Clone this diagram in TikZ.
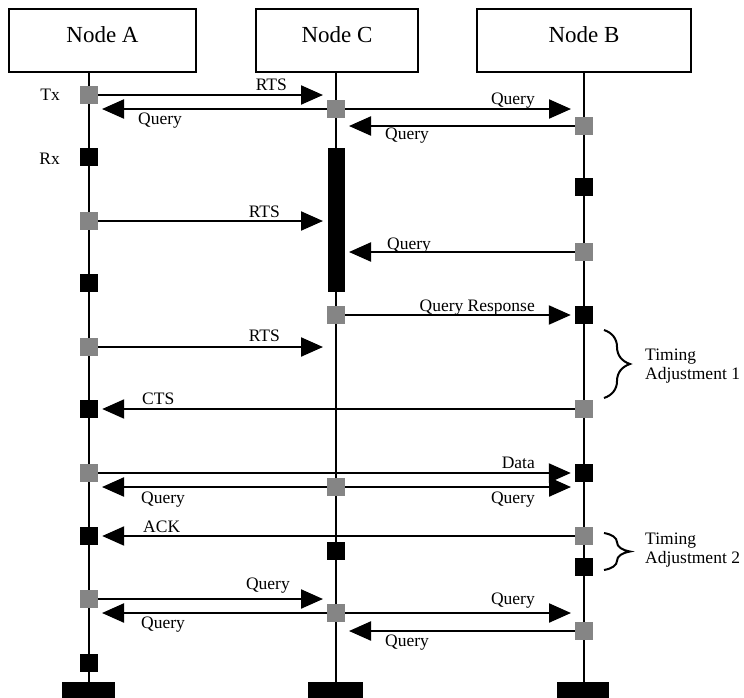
\documentclass[tikz,border=0pt]{standalone}
\usepackage{fontspec}
\setmainfont{Liberation Serif}
\usetikzlibrary{arrows.meta,decorations.pathreplacing}
\begin{document}
\begin{tikzpicture}[x=1pt,y=-1pt,
  lifeline/.style={line width=2.4pt},
  hdr/.style={draw, line width=2.2pt, minimum height=63pt, inner sep=0},
  ttl/.style={font=\fontsize{23}{26}\selectfont, inner sep=0, anchor=base},
  gsq/.style={fill=black!48, minimum size=18pt, inner sep=0},
  bsq/.style={fill=black, minimum size=18pt, inner sep=0},
  msg/.style={line width=2.2pt, -{Triangle[length=22pt,width=19pt]}},
  toline/.style={msg, shorten >=13pt},
  tosq/.style={msg, shorten >=4pt},
  lbl/.style={font=\fontsize{17.5}{20}\selectfont, inner sep=0},
  brc/.style={decorate, decoration={brace, amplitude=26pt}, line width=2pt},
  foot/.style={fill=black, minimum height=30pt, inner sep=0}
]
\clip (0,0) rectangle (744,697);
% headers
\node[hdr, minimum width=187pt] (hA) at (102.5,40.5) {};
\node[hdr, minimum width=162pt] (hC) at (337,40.5) {};
\node[hdr, minimum width=214pt] (hB) at (584,40.5) {};
\node[ttl] (tA) at (102.5,42) {Node A};
\node[ttl] (tC) at (337,42) {Node C};
\node[ttl] (tB) at (584,42) {Node B};
% feet
\node[foot, minimum width=53pt] (fA) at (88.5,697) {};
\node[foot, minimum width=55pt] (fC) at (335.5,697) {};
\node[foot, minimum width=52pt] (fB) at (583,697) {};
% lifelines
\coordinate (lA) at (89,72);
\coordinate (lC) at (336,72);
\coordinate (lB) at (584,72);
\draw[lifeline] (lA) -- (lA |- fA.north);
\draw[lifeline] (lC) -- (lC |- fC.north);
\draw[lifeline] (lB) -- (lB |- fB.north);

% 1 RTS
\node[gsq] (a1) at (89,95) {};
\node[lbl, anchor=base east] (tx) at (60,100) {Tx};
\coordinate (c1) at (336,95);
\draw[toline] (a1) -- (c1);
\node[lbl, anchor=base east] (l1) at (287,90) {RTS};
% 2 Query from C
\node[gsq] (c2) at (336,109) {};
\coordinate (a2l) at (89,109);
\coordinate (b2l) at (584,109);
\draw[toline] (c2) -- (a2l);
\draw[toline] (c2) -- (b2l);
\node[lbl, anchor=base west] (l2) at (138,124) {Query};
\node[lbl, anchor=base east] (l3) at (535,104) {Query};
% 3 Query B->C
\node[gsq] (b1) at (584,126) {};
\coordinate (c3l) at (336,126);
\draw[toline] (b1) -- (c3l);
\node[lbl, anchor=base west] (l4) at (385,139) {Query};
% Rx
\node[bsq] (a2) at (89,157) {};
\node[lbl, anchor=base east] (rx) at (60,164) {Rx};
\node[fill=black, minimum width=17pt, minimum height=144pt, inner sep=0] (cbar) at (336.5,220) {};
\node[bsq] (b2) at (584,187) {};
% RTS 2
\node[gsq] (a3) at (89,221) {};
\coordinate (c4l) at (336,221);
\draw[toline] (a3) -- (c4l);
\node[lbl, anchor=base east] (l5) at (280,217) {RTS};
% Query B->C
\node[gsq] (b3) at (584,252) {};
\coordinate (c5l) at (336,252);
\draw[toline] (b3) -- (c5l);
\node[lbl, anchor=base west] (l6) at (387,249) {Query};
\node[bsq] (a4) at (89,283) {};
% Query Response
\node[gsq] (c3) at (336,315) {};
\node[bsq] (b4) at (584,315) {};
\draw[tosq] (c3) -- (b4);
\node[lbl, anchor=base east] (l7) at (535,311) {Query Response};
% RTS 3
\node[gsq] (a5) at (89,347) {};
\coordinate (c6l) at (336,347);
\draw[toline] (a5) -- (c6l);
\node[lbl, anchor=base east] (l8) at (280,341) {RTS};
% brace 1
\coordinate (br1s) at (604,330);
\coordinate (br1e) at (604,398);
\draw[brc] (br1s) -- (br1e);
\node[lbl, anchor=base west] (ta1) at (645,360) {Timing};
\node[lbl, anchor=base west] (ta2) at (645,379) {Adjustment 1};
% CTS
\node[gsq] (b5) at (584,409) {};
\node[bsq] (a6) at (89,409) {};
\draw[tosq] (b5) -- (a6);
\node[lbl, anchor=base west] (l9) at (142,404) {CTS};
% Data
\node[gsq] (a7) at (89,473) {};
\node[bsq] (b6) at (584,473) {};
\draw[tosq] (a7) -- (b6);
\node[lbl, anchor=base east] (l10) at (535,468) {Data};
% Query from C
\node[gsq] (c4) at (336,487) {};
\coordinate (a7l) at (89,487);
\coordinate (b7l) at (584,487);
\draw[toline] (c4) -- (a7l);
\draw[toline] (c4) -- (b7l);
\node[lbl, anchor=base west] (l11) at (141,503) {Query};
\node[lbl, anchor=base east] (l12) at (535,503) {Query};
% ACK
\node[gsq] (b7) at (584,536) {};
\node[bsq] (a8) at (89,536) {};
\draw[tosq] (b7) -- (a8);
\node[lbl, anchor=base west] (l13) at (143,532) {ACK};
\node[bsq] (c5) at (336,551) {};
\node[bsq] (b8) at (584,567) {};
% brace 2
\coordinate (br2s) at (604,533);
\coordinate (br2e) at (604,570);
\draw[brc] (br2s) -- (br2e);
\node[lbl, anchor=base west] (tb1) at (645,544) {Timing};
\node[lbl, anchor=base west] (tb2) at (645,563) {Adjustment 2};
% final queries
\node[gsq] (a9) at (89,599) {};
\coordinate (c9l) at (336,599);
\draw[toline] (a9) -- (c9l);
\node[lbl, anchor=base east] (l14) at (290,589) {Query};
\node[gsq] (c6) at (336,613) {};
\coordinate (a10l) at (89,613);
\coordinate (b10l) at (584,613);
\draw[toline] (c6) -- (a10l);
\draw[toline] (c6) -- (b10l);
\node[lbl, anchor=base west] (l15) at (141,628) {Query};
\node[lbl, anchor=base east] (l16) at (535,604) {Query};
\node[gsq] (b9) at (584,631) {};
\coordinate (c11l) at (336,631);
\draw[toline] (b9) -- (c11l);
\node[lbl, anchor=base west] (l17) at (385,646) {Query};
\node[bsq] (a10) at (89,663) {};
\end{tikzpicture}
\end{document}
